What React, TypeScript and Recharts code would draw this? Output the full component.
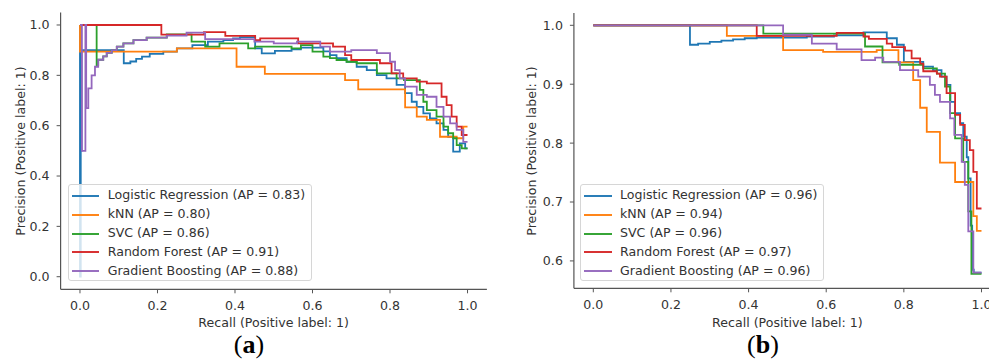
import React from 'react';
import { LineChart, Line, XAxis, YAxis } from 'recharts';

const modelNames = ['Logistic Regression', 'kNN', 'SVC', 'Random Forest', 'Gradient Boosting'];
const modelColors = ['#1f77b4', '#ff7f0e', '#2ca02c', '#d62728', '#9467bd'];
const apA = ['0.83', '0.80', '0.86', '0.91', '0.88'];
const apB = ['0.96', '0.94', '0.96', '0.97', '0.96'];
const xTicks = [0, 0.2, 0.4, 0.6, 0.8, 1.0];
const yTicksA = [0, 0.2, 0.4, 0.6, 0.8, 1.0];
const yTicksB = [0.6, 0.7, 0.8, 0.9, 1.0];
const xTitle = 'Recall (Positive label: 1)';
const yTitle = 'Precision (Positive label: 1)';
const captions = ['a', 'b'];

// Panel (a): [recall, precision] points, ascending recall
const logRegA = [[0, 1], [0.002, 0], [0.004, 0.5], [0.113, 0.9], [0.13, 0.848], [0.145, 0.855], [0.16, 0.865], [0.18, 0.874], [0.215, 0.885], [0.25, 0.894], [0.29, 0.907], [0.33, 0.92], [0.37, 0.934], [0.395, 0.94], [0.413, 0.947], [0.452, 0.952], [0.469, 0.907], [0.503, 0.887], [0.546, 0.897], [0.57, 0.903], [0.628, 0.91], [0.645, 0.895], [0.662, 0.88], [0.688, 0.868], [0.714, 0.854], [0.74, 0.834], [0.766, 0.821], [0.791, 0.801], [0.817, 0.788], [0.839, 0.762], [0.856, 0.729], [0.869, 0.695], [0.886, 0.675], [0.903, 0.649], [0.92, 0.629], [0.938, 0.609], [0.95, 0.583], [0.963, 0.556], [0.98, 0.497], [0.994, 0.53], [1.0, 0.51]];
const knnA = [[0, 1], [0.25, 0.894], [0.404, 0.907], [0.477, 0.834], [0.684, 0.806], [0.718, 0.781], [0.839, 0.744], [0.869, 0.673], [0.895, 0.636], [0.929, 0.623], [0.972, 0.556], [0.989, 0.55], [1.0, 0.596]];
const svcA = [[0, 1], [0.043, 1.0], [0.047, 0.841], [0.06, 0.862], [0.069, 0.875], [0.082, 0.889], [0.095, 0.9], [0.112, 0.914], [0.138, 0.927], [0.172, 0.94], [0.224, 0.95], [0.288, 0.963], [0.323, 0.934], [0.36, 0.914], [0.434, 0.927], [0.452, 0.907], [0.546, 0.914], [0.57, 0.907], [0.60, 0.92], [0.628, 0.894], [0.645, 0.874], [0.662, 0.868], [0.688, 0.861], [0.714, 0.854], [0.766, 0.848], [0.817, 0.808], [0.836, 0.788], [0.877, 0.781], [0.886, 0.742], [0.895, 0.695], [0.92, 0.662], [0.938, 0.636], [0.95, 0.596], [0.963, 0.57], [0.972, 0.55], [0.985, 0.523], [1.0, 0.51]];
const rfA = [[0, 1], [0.21, 1.0], [0.32, 0.962], [0.375, 0.972], [0.452, 0.957], [0.465, 0.94], [0.563, 0.947], [0.653, 0.927], [0.684, 0.914], [0.70, 0.88], [0.774, 0.861], [0.804, 0.848], [0.834, 0.808], [0.869, 0.788], [0.895, 0.775], [0.933, 0.768], [0.946, 0.715], [0.959, 0.682], [0.972, 0.636], [0.985, 0.596], [1.0, 0.563]];
const gbA = [[0, 1], [0.005, 1.0], [0.014, 0.5], [0.016, 1.0], [0.0215, 0.67], [0.03, 0.748], [0.0387, 0.8], [0.047, 0.834], [0.06, 0.862], [0.069, 0.875], [0.082, 0.889], [0.095, 0.9], [0.112, 0.914], [0.138, 0.927], [0.172, 0.94], [0.224, 0.95], [0.275, 0.958], [0.323, 0.97], [0.45, 0.944], [0.5, 0.934], [0.56, 0.927], [0.62, 0.934], [0.645, 0.914], [0.70, 0.894], [0.766, 0.9], [0.80, 0.888], [0.813, 0.854], [0.825, 0.821], [0.839, 0.788], [0.869, 0.755], [0.895, 0.722], [0.92, 0.715], [0.938, 0.675], [0.955, 0.636], [0.972, 0.609], [0.989, 0.583], [1.0, 0.536]];

// Panel (b)
const logRegB = [[0, 1], [0.249, 1.0], [0.27, 0.967], [0.30, 0.969], [0.33, 0.972], [0.36, 0.974], [0.39, 0.976], [0.421, 0.978], [0.55, 0.979], [0.62, 0.981], [0.696, 0.983], [0.756, 0.988], [0.782, 0.978], [0.80, 0.967], [0.85, 0.938], [0.875, 0.93], [0.897, 0.924], [0.91, 0.913], [0.92, 0.899], [0.932, 0.87], [0.945, 0.851], [0.953, 0.834], [0.962, 0.811], [0.966, 0.776], [0.972, 0.74], [0.976, 0.66], [0.98, 0.585], [1.0, 0.58]];
const knnB = [[0, 1], [0.344, 1.0], [0.489, 0.982], [0.592, 0.958], [0.73, 0.955], [0.786, 0.958], [0.824, 0.937], [0.842, 0.907], [0.859, 0.86], [0.893, 0.819], [0.932, 0.767], [0.979, 0.734], [0.988, 0.676], [1.0, 0.651]];
const svcB = [[0, 1], [0.438, 1.0], [0.70, 0.986], [0.745, 0.964], [0.788, 0.937], [0.85, 0.933], [0.885, 0.927], [0.906, 0.918], [0.919, 0.896], [0.932, 0.851], [0.953, 0.808], [0.966, 0.768], [0.974, 0.684], [1.0, 0.578]];
const rfB = [[0, 1], [0.421, 1.0], [0.627, 0.982], [0.696, 0.987], [0.71, 0.981], [0.756, 0.977], [0.77, 0.969], [0.803, 0.963], [0.82, 0.957], [0.842, 0.944], [0.85, 0.935], [0.885, 0.922], [0.893, 0.918], [0.91, 0.913], [0.932, 0.885], [0.945, 0.848], [0.957, 0.831], [0.97, 0.805], [0.979, 0.788], [0.988, 0.751], [1.0, 0.689]];
const gbB = [[0, 1], [0.489, 1.0], [0.563, 0.984], [0.627, 0.969], [0.691, 0.959], [0.726, 0.941], [0.747, 0.945], [0.79, 0.938], [0.837, 0.924], [0.867, 0.913], [0.88, 0.899], [0.893, 0.882], [0.919, 0.87], [0.93, 0.842], [0.949, 0.814], [0.957, 0.768], [0.966, 0.729], [0.979, 0.65], [1.0, 0.58]];

const toPts = (a: number[][]) => a.map(([r, p]) => ({ r, p }));

const FONT = '"DejaVu Sans", sans-serif';
const TEXT = '#333';
const SPINE = '#555';
const FS = 12.6;

type PanelProps = {
  series: number[][][];
  yTicks: number[];
  yDomain: [number, number];
  left: number;
  top: number;
  yAxisW: number;
  rightM: number;
  xAxisH: number;
};

function Panel({ series, yTicks, yDomain, left, top, yAxisW, rightM, xAxisH }: PanelProps) {
  const xDomain: [number, number] = [-0.05, 1.05];
  const tickStyle = { fill: TEXT, fontSize: FS, fontFamily: FONT };
  return (
    <div style={{ position: 'absolute', left, top: 0 }}>
      <LineChart width={500} height={363} margin={{ top, right: rightM, bottom: 0, left: 0 }}>
        <XAxis
          xAxisId="x"
          dataKey="r"
          type="number"
          domain={xDomain}
          allowDataOverflow
          ticks={xTicks}
          tickFormatter={(v: number) => v.toFixed(1)}
          tick={tickStyle}
          tickSize={4}
          tickMargin={8}
          height={xAxisH}
          axisLine={{ stroke: SPINE, strokeWidth: 1.2 }}
          tickLine={{ stroke: SPINE, strokeWidth: 1 }}
        />
        <XAxis
          xAxisId="top"
          orientation="top"
          type="number"
          domain={xDomain}
          allowDataOverflow
          height={0}
          tick={false}
          tickLine={false}
          axisLine={{ stroke: SPINE, strokeWidth: 1.2 }}
        />
        <YAxis
          yAxisId="y"
          type="number"
          domain={yDomain}
          allowDataOverflow
          ticks={yTicks}
          tickFormatter={(v: number) => v.toFixed(1)}
          tick={tickStyle}
          tickSize={4}
          tickMargin={7}
          width={yAxisW}
          axisLine={{ stroke: SPINE, strokeWidth: 1.2 }}
          tickLine={{ stroke: SPINE, strokeWidth: 1 }}
        />
        <YAxis
          yAxisId="right"
          orientation="right"
          type="number"
          domain={yDomain}
          allowDataOverflow
          width={0}
          tick={false}
          tickLine={false}
          axisLine={{ stroke: SPINE, strokeWidth: 1.2 }}
        />
        {series.map((s, i) => (
          <Line
            key={modelNames[i]}
            xAxisId="x"
            yAxisId="y"
            data={toPts(s)}
            dataKey="p"
            type="stepBefore"
            stroke={modelColors[i]}
            strokeWidth={1.8}
            dot={false}
            activeDot={false}
            isAnimationActive={false}
          />
        ))}
      </LineChart>
    </div>
  );
}

function LegendBox({ left, ap }: { left: number; ap: string[] }) {
  return (
    <div
      style={{
        position: 'absolute',
        left,
        top: 184,
        width: 244,
        height: 97,
        border: '1px solid #d6d6d6',
        borderRadius: 3,
        background: 'rgba(255,255,255,0.8)',
        boxSizing: 'border-box',
        paddingTop: 1.3,
        fontFamily: FONT,
        fontSize: FS,
        color: TEXT,
      }}
    >
      {modelNames.map((n, i) => (
        <div key={n} style={{ height: 18.9, display: 'flex', alignItems: 'center', whiteSpace: 'nowrap' }}>
          <div style={{ marginLeft: 3, width: 27.5, height: 2, background: modelColors[i], opacity: 0.95 }} />
          <span style={{ marginLeft: 8.5, lineHeight: '18.9px' }}>{`${n} (AP = ${ap[i]})`}</span>
        </div>
      ))}
    </div>
  );
}

export default function App() {
  return (
    <div style={{ position: 'absolute', left: 0, top: 0, width: 989, height: 363, overflow: 'hidden', background: '#fff' }}>
      <Panel
        series={[logRegA, knnA, svcA, rfA, gbA]}
        yTicks={yTicksA}
        yDomain={[-0.05, 1.05]}
        left={0}
        top={12.4}
        yAxisW={60.6}
        rightM={13.1}
        xAxisH={73.7}
      />
      <Panel
        series={[logRegB, knnB, svcB, rfB, gbB]}
        yTicks={yTicksB}
        yDomain={[0.5535, 1.0209]}
        left={513}
        top={13}
        yAxisW={60.9}
        rightM={12.1}
        xAxisH={74.7}
      />
      <LegendBox left={67.7} ap={apA} />
      <LegendBox left={580} ap={apB} />
      <svg width={989} height={363} style={{ position: 'absolute', left: 0, top: 0, pointerEvents: 'none' }}>
        <g fontFamily={FONT} fontSize={FS} fill={TEXT}>
          <text x={20} y={151} transform="rotate(-90 20 151)" textAnchor="middle" dominantBaseline="central">{yTitle}</text>
          <text x={531} y={151} transform="rotate(-90 531 151)" textAnchor="middle" dominantBaseline="central">{yTitle}</text>
          <text x={273.7} y={322.5} textAnchor="middle" dominantBaseline="central">{xTitle}</text>
          <text x={787.4} y={322.5} textAnchor="middle" dominantBaseline="central">{xTitle}</text>
        </g>
        <g fontFamily='"Liberation Serif", serif' fontSize={26} fill="#000">
          <text x={249} y={353} textAnchor="middle">(<tspan fontWeight="bold">{captions[0]}</tspan>)</text>
          <text x={763} y={353} textAnchor="middle">(<tspan fontWeight="bold">{captions[1]}</tspan>)</text>
        </g>
      </svg>
    </div>
  );
}
